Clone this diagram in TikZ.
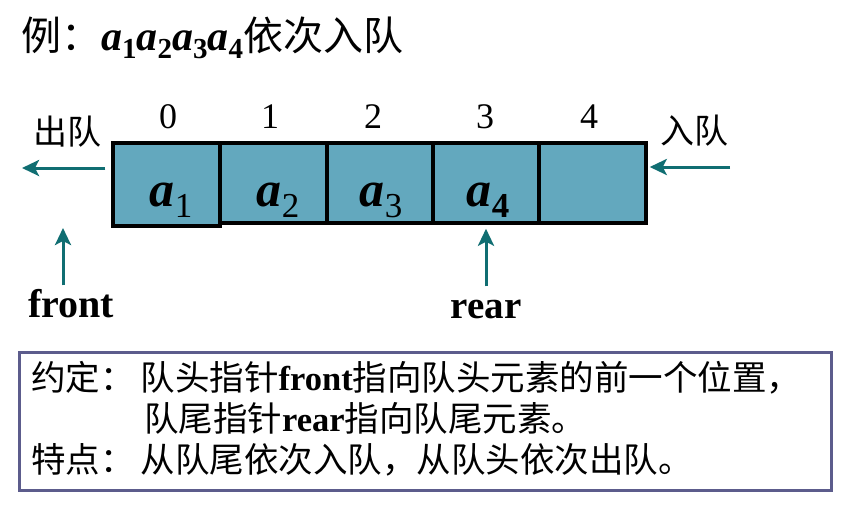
\documentclass[tikz,border=0pt]{standalone}
\usepackage{fontspec}
\setmainfont{Liberation Serif}
\newfontfamily\cjk{Noto Sans CJK SC}
\usetikzlibrary{arrows.meta}
\definecolor{cellfill}{RGB}{99,168,190}
\definecolor{arrowcol}{RGB}{16,110,114}
\definecolor{framecol}{RGB}{92,92,140}
\newcommand{\cella}[2]{{\fontsize{50}{50}\selectfont\bfseries\itshape a}\raisebox{-11pt}{\fontsize{35}{35}\selectfont #2#1}}
\newcommand{\tita}[1]{{\fontsize{42}{42}\selectfont\bfseries\itshape a}\raisebox{-8pt}{\fontsize{29}{29}\selectfont\bfseries #1}}
\begin{document}
\begin{tikzpicture}[x=1pt,y=-1pt,
  cellbox/.style={draw=black, line width=3.5pt, fill=cellfill, minimum width=106pt, minimum height=80pt, inner sep=0pt},
  celltext/.style={anchor=base, inner sep=0pt},
  idx/.style={anchor=base, inner sep=0pt, font=\fontsize{36}{36}\selectfont},
  side/.style={anchor=base, inner sep=0pt, font=\fontsize{34}{34}\selectfont\cjk},
  ptr/.style={anchor=base, font=\fontsize{40}{40}\selectfont\bfseries, text height=28pt},
  conn/.style={draw=arrowcol, line width=3pt, -{Stealth[length=17pt,width=16pt,inset=4pt]}},
  noteline/.style={anchor=base west, inner sep=0pt, font=\fontsize{34.5}{34.5}\selectfont}
]
\useasboundingbox (0,0) rectangle (843,507);
\fill[white] (0,0) rectangle (843,507);

% title
\node[anchor=base west, inner sep=0pt] (title) at (21,50)
  {{\fontsize{40}{40}\selectfont\cjk 例：}\tita{1}\tita{2}\tita{3}\tita{4}{\fontsize{40}{40}\selectfont\cjk 依次入队}};

% cells
\node[cellbox] (c1) at (273.5,183) {};
\node[cellbox] (c2) at (380,183) {};
\node[cellbox] (c3) at (486,183) {};
\node[cellbox, minimum width=107pt] (c4) at (592.5,183) {};
\node[cellbox, minimum width=107pt, minimum height=83pt] (c0) at (166.5,184.5) {};

\node[celltext] (l0) at (171,206) {\cella{1}{}};
\node[celltext] (l1) at (278,206) {\cella{2}{}};
\node[celltext] (l2) at (381,206) {\cella{3}{}};
\node[celltext] (l3) at (488,206) {\cella{4}{\bfseries}};

% indices
\node[idx] (i0) at (168,128) {0};
\node[idx] (i1) at (270,128) {1};
\node[idx] (i2) at (373,128) {2};
\node[idx] (i3) at (485,128) {3};
\node[idx] (i4) at (589,128) {4};

% dequeue / enqueue
\node[side] (out) at (67,144) {出队};
\node[side] (in) at (694,143) {入队};
\coordinate (outend) at (22,168);
\coordinate (inbeg) at (730,167);
\draw[conn, shorten <=6pt] (c0.west |- outend) -- (outend);
\draw[conn, shorten >=2pt] (inbeg) -- (inbeg -| c4.east);

% pointers
\node[ptr] (front) at (71,317) {front};
\node[ptr, font=\fontsize{39}{39}\selectfont\bfseries] (rear) at (486,318) {rear};
\coordinate (ftip) at (63,228);
\draw[conn] (front.north -| ftip) -- (ftip);
\draw[conn, shorten >=4pt] (rear.north -| c3.south) -- (c3.south);

% note box
\node[draw=framecol, line width=3pt, minimum width=812pt, minimum height=138pt, inner sep=0pt] (note) at (425,421) {};
\node[noteline] (n1) at (31,390) {{\cjk 约定：\kern6pt 队头指针}{\bfseries front}{\cjk 指向队头元素的前一个位置，}};
\node[noteline] (n2) at (144,431) {{\cjk 队尾指针}{\bfseries rear}{\cjk 指向队尾元素。}};
\node[noteline] (n3) at (31,472) {{\cjk 特点：\kern6pt 从队尾依次入队，从队头依次出队。}};
\end{tikzpicture}
\end{document}
